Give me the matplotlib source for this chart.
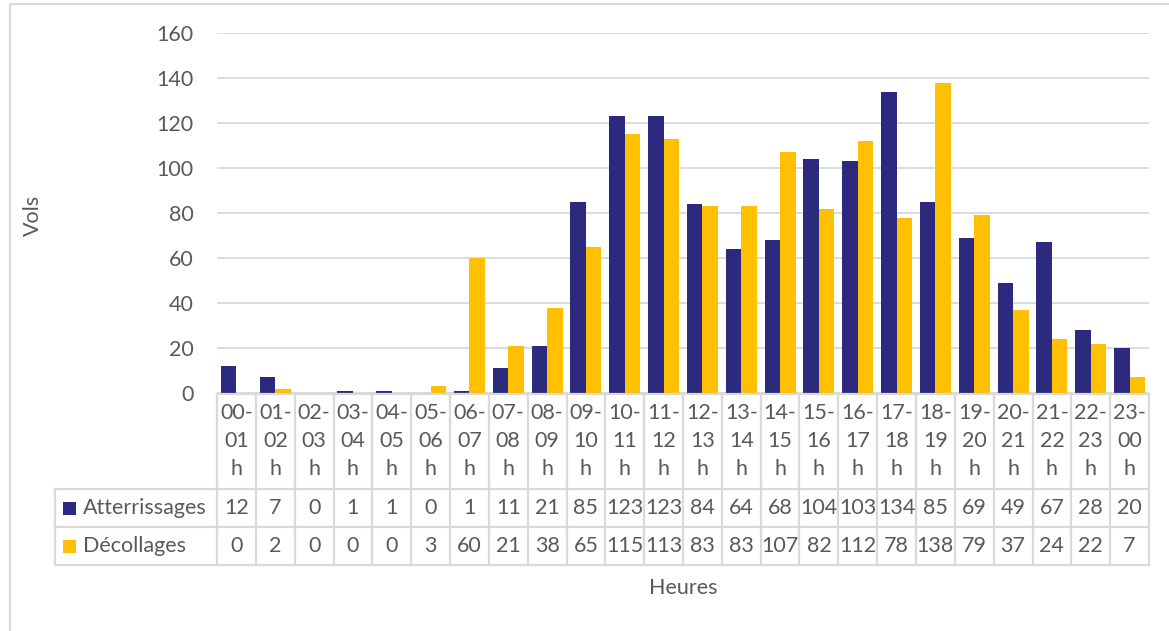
import numpy as np
import matplotlib
matplotlib.use("Agg")
import matplotlib.pyplot as plt
import matplotlib.transforms as mtransforms
from matplotlib.lines import Line2D
from matplotlib.patches import Rectangle

hours = ["00-01", "01-02", "02-03", "03-04", "04-05", "05-06", "06-07", "07-08",
         "08-09", "09-10", "10-11", "11-12", "12-13", "13-14", "14-15", "15-16",
         "16-17", "17-18", "18-19", "19-20", "20-21", "21-22", "22-23", "23-00"]
atterrissages = [12, 7, 0, 1, 1, 0, 1, 11, 21, 85, 123, 123, 84, 64, 68, 104,
                 103, 134, 85, 69, 49, 67, 28, 20]
decollages = [0, 2, 0, 0, 0, 3, 60, 21, 38, 65, 115, 113, 83, 83, 107, 82,
              112, 78, 138, 79, 37, 24, 22, 7]
series_names = ["Atterrissages", "Décollages"]
colors = ["#2B2A7E", "#FFC000"]

TXT = "#595959"
GRID = "#D9D9D9"
FONT = "Lato"
FS = 15.5

plt.rcParams["font.family"] = [FONT, "DejaVu Sans"]

W, H = 1169, 631
fig = plt.figure(figsize=(W / 100, H / 100), dpi=100)
ax = fig.add_axes([217 / W, 1 - 393 / H, (1149 - 217) / W, (393 - 33) / H])

x = np.arange(len(hours))
bw = 0.4
ax.bar(x - bw / 2, atterrissages, bw, color=colors[0], zorder=2)
ax.bar(x + bw / 2, decollages, bw, color=colors[1], zorder=2)
ax.set_xlim(-0.5, len(hours) - 0.5)
ax.set_ylim(0, 160)
ax.set_yticks(range(0, 161, 20))
ax.set_xticks([])
ax.yaxis.grid(True, color=GRID, lw=1.3)
ax.set_axisbelow(True)
for s in ax.spines.values():
    s.set_visible(False)
ax.tick_params(axis="y", length=0, labelsize=FS, labelcolor=TXT, pad=17)

# pixel transform (origin top-left) and column transform (x in data)
px = mtransforms.Affine2D().scale(1 / W, -1 / H).translate(0, 1) + fig.transFigure
col = mtransforms.blended_transform_factory(ax.transData, px)


def hline(x0, x1, y, tr):
    fig.add_artist(Line2D([x0, x1], [y, y], transform=tr, color=GRID, lw=1.6))


def vline(xv, y0, y1, tr):
    fig.add_artist(Line2D([xv, xv], [y0, y1], transform=tr, color=GRID, lw=1.6))


# data table
top, r1, r2, bot = 394, 489, 527, 565
n = len(hours)
hline(-0.5, n - 0.5, top, col)
for yy in (r1, r2, bot):
    hline(55, 1149, yy, px)
vline(55, r1, bot, px)
for i in range(n + 1):
    vline(i - 0.5, top, bot, col)

for i, h in enumerate(hours):
    a, b = h.split("-")
    for txt, yy in ((a + "-", 413), (b, 441), ("h", 469)):
        fig.text(i, yy, txt, transform=col, ha="center", va="center",
                 fontsize=FS, color=TXT)
    fig.text(i, 508, str(atterrissages[i]), transform=col, ha="center",
             va="center", fontsize=FS, color=TXT)
    fig.text(i, 546, str(decollages[i]), transform=col, ha="center",
             va="center", fontsize=FS, color=TXT)

for name, c, yy in zip(series_names, colors, (508, 546)):
    fig.add_artist(Rectangle((63, yy + 7), 13, -13, transform=px,
                             facecolor=c, edgecolor="none"))
    fig.text(83, yy, name, transform=px, ha="left", va="center",
             fontsize=FS, color=TXT)

fig.text(33, 215, "Vols", transform=px, rotation=90, ha="center",
         va="center", fontsize=FS, color=TXT)
fig.text(683, 588, "Heures", transform=px, ha="center", va="center",
         fontsize=FS, color=TXT)

# chart border
fig.add_artist(Rectangle((10, 4), 1200, 700, transform=px, fill=False,
                         edgecolor=GRID, lw=1.5))

fig.savefig("out.png", dpi=100, facecolor="white")
